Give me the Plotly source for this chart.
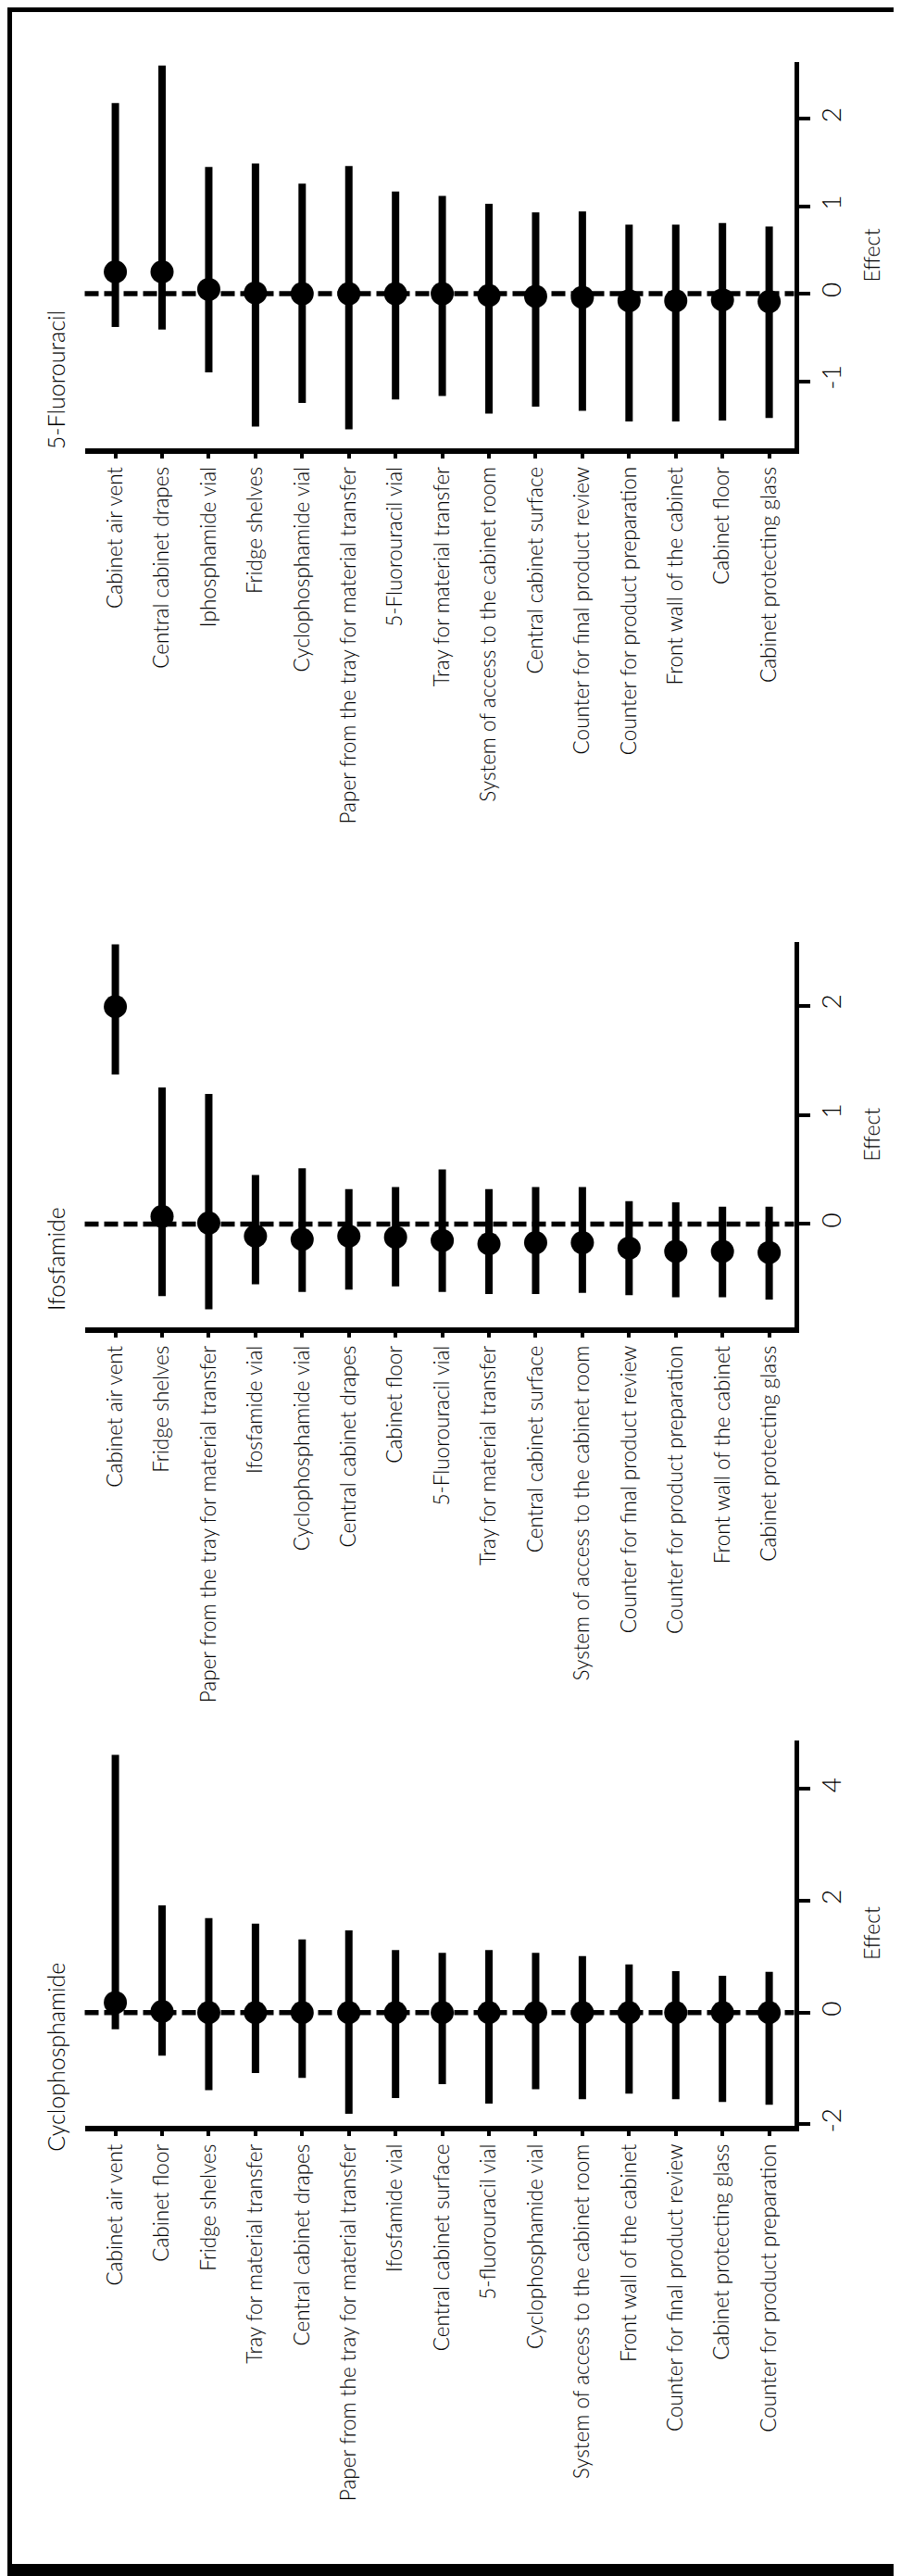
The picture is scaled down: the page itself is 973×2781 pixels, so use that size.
import plotly.graph_objects as go

W, H = 973, 2781

# ---------------- data ----------------
titles = ["5-Fluorouracil", "Ifosfamide", "Cyclophosphamide"]

cats1 = ["Cabinet air vent", "Central cabinet drapes", "Iphosphamide vial", "Fridge shelves",
         "Cyclophosphamide vial", "Paper from the tray for material transfer", "5-Fluorouracil vial",
         "Tray for material transfer", "System of access to the cabinet room", "Central cabinet surface",
         "Counter for final product review", "Counter for product preparation",
         "Front wall of the cabinet", "Cabinet floor", "Cabinet protecting glass"]
est1 = [0.25, 0.25, 0.05, 0.01, 0.0, 0.0, 0.0, 0.0, -0.02, -0.03, -0.04, -0.08, -0.08, -0.07, -0.09]
hi1 = [2.18, 2.61, 1.45, 1.49, 1.26, 1.46, 1.17, 1.12, 1.03, 0.93, 0.94, 0.79, 0.79, 0.81, 0.77]
lo1 = [-0.38, -0.41, -0.90, -1.52, -1.25, -1.55, -1.21, -1.17, -1.37, -1.29, -1.34, -1.46, -1.46, -1.45, -1.42]

cats2 = ["Cabinet air vent", "Fridge shelves", "Paper from the tray for material transfer", "Ifosfamide vial",
         "Cyclophosphamide vial", "Central cabinet drapes", "Cabinet floor", "5-Fluorouracil vial",
         "Tray for material transfer", "Central cabinet surface", "System of access to the cabinet room",
         "Counter for final product review", "Counter for product preparation",
         "Front wall of the cabinet", "Cabinet protecting glass"]
est2 = [1.99, 0.07, 0.01, -0.11, -0.14, -0.11, -0.12, -0.15, -0.18, -0.17, -0.17, -0.22, -0.25, -0.25, -0.26]
hi2 = [2.56, 1.25, 1.19, 0.45, 0.51, 0.32, 0.34, 0.50, 0.32, 0.34, 0.34, 0.21, 0.20, 0.16, 0.16]
lo2 = [1.37, -0.66, -0.78, -0.55, -0.62, -0.60, -0.57, -0.62, -0.64, -0.64, -0.63, -0.65, -0.67, -0.67, -0.69]

cats3 = ["Cabinet air vent", "Cabinet floor", "Fridge shelves", "Tray for material transfer",
         "Central cabinet drapes", "Paper from the tray for material transfer", "Ifosfamide vial",
         "Central cabinet surface", "5-fluorouracil vial", "Cyclophosphamide vial",
         "System of access to the cabinet room", "Front wall of the cabinet",
         "Counter for final product review", "Cabinet protecting glass", "Counter for product preparation"]
est3 = [0.18, 0.02, 0.0, 0.0, 0.0, 0.0, 0.0, 0.0, 0.0, 0.0, 0.0, 0.0, 0.0, 0.0, 0.0]
hi3 = [4.61, 1.92, 1.69, 1.59, 1.31, 1.47, 1.12, 1.07, 1.12, 1.07, 1.01, 0.86, 0.74, 0.66, 0.73]
lo3 = [-0.30, -0.77, -1.39, -1.08, -1.17, -1.81, -1.53, -1.28, -1.63, -1.37, -1.55, -1.45, -1.55, -1.60, -1.65]

tickvals1 = [-1, 0, 1, 2]
ticktext1 = ["-1", "0", "1", "2"]
tickvals2 = [0, 1, 2]
ticktext2 = ["0", "1", "2"]
tickvals3 = [-2, 0, 2, 4]
ticktext3 = ["-2", "0", "2", "4"]

axis_title = "Effect"

# ---------------- layout geometry (pixels) ----------------
FONT = "Lato"
panels = [
    dict(cats=cats1, est=est1, hi=hi1, lo=lo1, tv=tickvals1, tt=ticktext1,
         top=59.3, bot=477.3, yr=[-1.767, 2.648]),
    dict(cats=cats2, est=est2, hi=hi2, lo=lo2, tv=tickvals2, tt=ticktext2,
         top=1011.7, bot=1428.8, yr=[-0.9425, 2.583]),
    dict(cats=cats3, est=est3, hi=hi3, lo=lo3, tv=tickvals3, tt=ticktext3,
         top=1876.7, bot=2293.2, yr=[-2.02, 4.864]),
]
X_LEFT, X_RIGHT = 83.5, 849.5
XR = [-0.656, 14.533]


def py(p):
    return 1 - p / H


fig = go.Figure()
layout = dict(width=W, height=H, margin=dict(l=0, r=0, t=0, b=0),
              paper_bgcolor="white", plot_bgcolor="white", showlegend=False,
              font=dict(family=FONT, color="black"))
shapes = []
annotations = []

for i, p in enumerate(panels, start=1):
    sfx = "" if i == 1 else str(i)
    xa, ya = "x" + sfx, "y" + sfx
    fig.add_trace(go.Scatter(
        x=p["cats"], y=p["est"], mode="markers",
        marker=dict(size=25, color="black", line=dict(width=0)),
        error_y=dict(type="data", symmetric=False,
                     array=[h - e for h, e in zip(p["hi"], p["est"])],
                     arrayminus=[e - l for e, l in zip(p["est"], p["lo"])],
                     thickness=8, width=0, color="black"),
        xaxis=xa, yaxis=ya, hoverinfo="skip"))
    layout["xaxis" + sfx] = dict(
        domain=[X_LEFT / W, X_RIGHT / W], anchor=ya, type="category",
        categoryorder="array", categoryarray=p["cats"], range=XR,
        showgrid=False, zeroline=False, showline=True, linecolor="black", linewidth=6,
        ticks="outside", ticklen=5, tickwidth=3.5, tickcolor="black",
        tickangle=-90, tickfont=dict(family=FONT, size=22.5, color="black", weight=300))
    layout["yaxis" + sfx] = dict(
        domain=[py(p["bot"]), py(p["top"])], anchor=xa, side="right",
        range=p["yr"], showgrid=False, zeroline=False, showline=True,
        linecolor="black", linewidth=5, ticks="outside", ticklen=12, tickwidth=4,
        tickcolor="black", tickvals=p["tv"], ticktext=p["tt"], tickangle=-90,
        tickfont=dict(family=FONT, size=28, color="black", weight=300))
    shapes.append(dict(type="line", xref=xa + " domain", yref=ya, x0=0, x1=1, y0=0, y1=0,
                       line=dict(color="black", width=5.5, dash="15px,6px"), layer="below"))
    annotations.append(dict(text=titles[i - 1], xref="paper", yref="paper",
                            x=52 / W, y=py(p["bot"] + 3 - 77), xanchor="center", yanchor="middle",
                            textangle=-90, showarrow=False,
                            font=dict(family=FONT, size=25, color="black", weight=300)))
    annotations.append(dict(text=axis_title, xref="paper", yref="paper",
                            x=933 / W, y=py((p["top"] + p["bot"]) / 2), xanchor="center",
                            yanchor="middle", textangle=-90, showarrow=False,
                            font=dict(family=FONT, size=23, color="black", weight=300)))

# outer frame
shapes.append(dict(type="rect", xref="paper", yref="paper", x0=0, x1=1, y0=0, y1=1,
                   line=dict(color="black", width=10), fillcolor="rgba(0,0,0,0)"))
shapes.append(dict(type="rect", xref="paper", yref="paper", x0=0, x1=1, y0=0, y1=13 / H,
                   line=dict(width=0), fillcolor="black"))

layout["shapes"] = shapes
layout["annotations"] = annotations
fig.update_layout(**layout)
fig.write_html("out.html")
